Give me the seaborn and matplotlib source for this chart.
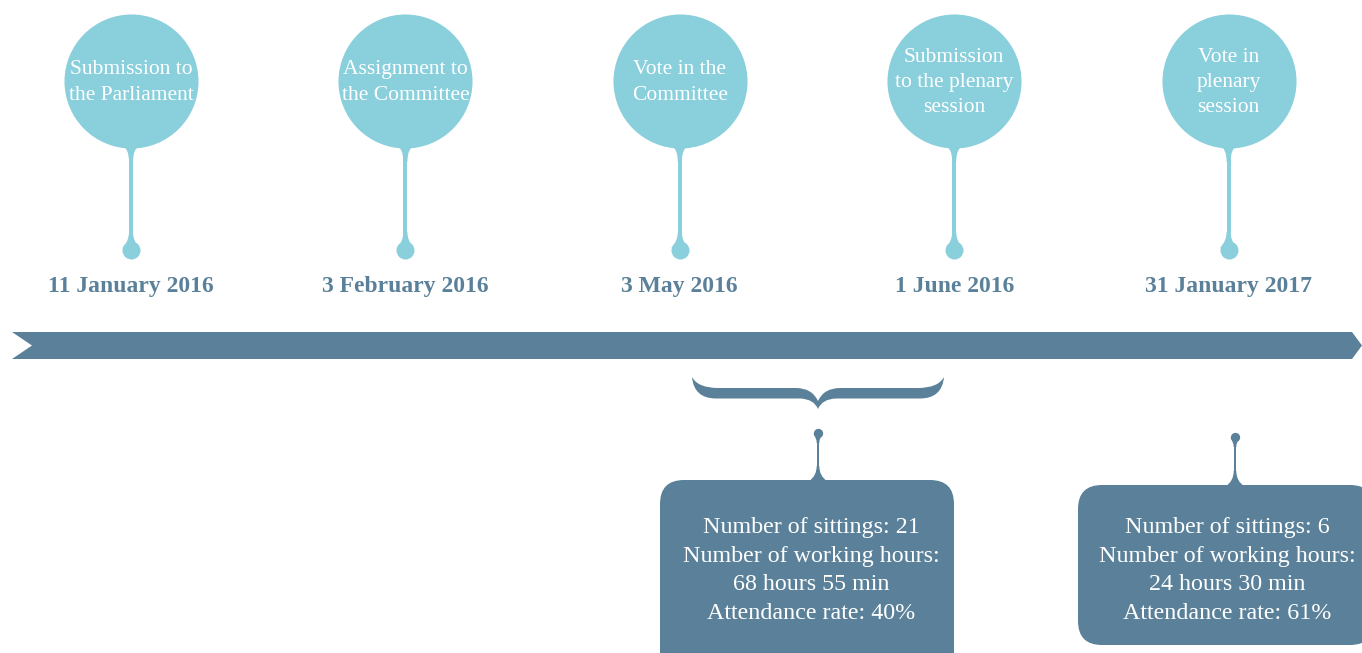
import numpy as np
import pandas as pd
import matplotlib
matplotlib.use("Agg")
import matplotlib.pyplot as plt
import seaborn as sns
from matplotlib.path import Path
from matplotlib.patches import PathPatch, FancyBboxPatch, Polygon

# Timeline data
event_labels = [
    "Submission to\nthe Parliament",
    "Assignment to\nthe Committee",
    "Vote in the\nCommittee",
    "Submission\nto the plenary\nsession",
    "Vote in\nplenary\nsession",
]
event_dates = [
    "11 January 2016",
    "3 February 2016",
    "3 May 2016",
    "1 June 2016",
    "31 January 2017",
]

# Stats boxes (committee phase, plenary phase)
box_stats = [
    ["Number of sittings: 21", "Number of working hours:", "68 hours 55 min", "Attendance rate: 40%"],
    ["Number of sittings: 6", "Number of working hours:", "24 hours 30 min", "Attendance rate: 61%"],
]

LIGHT = "#8acfdc"
DARK = "#5a8199"
SERIF = "Liberation Serif"

sns.set_theme(style="white")
plt.rcParams['font.family'] = [SERIF, 'DejaVu Serif']

W, H = 1362, 653
fig = plt.figure(figsize=(W / 100, H / 100), dpi=100)
ax = fig.add_axes([0, 0, 1, 1])

# event positions (evenly spaced along the timeline)
xs = 131 + 274.4 * np.arange(len(event_labels))
df = pd.DataFrame({"x": xs, "circle_y": 81.0, "drop_y": 250.0, "label": event_labels, "date": event_dates})

# stems with flares
for x in df["x"]:
    ax.add_patch(Polygon([(x - 2, 140), (x + 2, 140), (x + 2, 250), (x - 2, 250)],
                         closed=True, fc=LIGHT, ec="none", zorder=1))
    top = Path([(x - 9, 146), (x - 2, 148), (x - 2, 162), (x + 2, 162), (x + 2, 148), (x + 9, 146), (x - 9, 146)],
               [Path.MOVETO, Path.CURVE3, Path.CURVE3, Path.LINETO, Path.CURVE3, Path.CURVE3, Path.CLOSEPOLY])
    ax.add_patch(PathPatch(top, fc=LIGHT, ec="none", zorder=1))
    bot = Path([(x - 2, 232), (x - 2, 241), (x - 8.5, 248), (x + 8.5, 248), (x + 2, 241), (x + 2, 232), (x - 2, 232)],
               [Path.MOVETO, Path.CURVE3, Path.CURVE3, Path.LINETO, Path.CURVE3, Path.CURVE3, Path.CLOSEPOLY])
    ax.add_patch(PathPatch(bot, fc=LIGHT, ec="none", zorder=1))

# big circles and drops
sns.scatterplot(data=df, x="x", y="circle_y", s=9312, color=LIGHT, linewidth=0, ax=ax, zorder=2, legend=False)
sns.scatterplot(data=df, x="x", y="drop_y", s=168, color=LIGHT, linewidth=0, ax=ax, zorder=2, legend=False)
ax.set_xlim(0, W)
ax.set_ylim(H, 0)
ax.axis("off")

# circle labels
for x, lab in zip(df["x"], df["label"]):
    lines = lab.split("\n")
    n = len(lines)
    for k, line in enumerate(lines):
        yb = 87 + (k - (n - 1) / 2) * 25.5
        ax.text(x, yb, line, ha="center", va="baseline", color="white", fontsize=15.5, zorder=3)

# dates
for x, d in zip(df["x"], df["date"]):
    ax.text(x, 292, d, ha="center", va="baseline", color=DARK, fontsize=17, fontweight="bold")

# timeline bar
ax.add_patch(Polygon([(12, 332), (1352, 332), (1362, 345.5), (1352, 359), (12, 359), (32, 345.5)],
                     closed=True, fc=DARK, ec="none"))

# curly brace over committee period
cx = 818
L = [(692, 377), (698, 388), (718, 388), (796, 388), (812, 388), (cx, 401)]
R = [(2 * cx - px, py) for (px, py) in L[::-1]]
verts = L + R[1:]
codes = [Path.MOVETO, Path.CURVE3, Path.CURVE3, Path.LINETO, Path.CURVE3, Path.CURVE3,
         Path.CURVE3, Path.CURVE3, Path.LINETO, Path.CURVE3, Path.CURVE3]
lowL = [(692, 377), (694, 398.5), (716, 398.5), (800, 398.5), (814, 399), (cx, 409)]
lowR = [(2 * cx - px, py) for (px, py) in lowL]
verts += lowR[1:] + lowL[::-1][1:] + [(692, 377)]
codes += [Path.CURVE3, Path.CURVE3, Path.LINETO, Path.CURVE3, Path.CURVE3,
          Path.CURVE3, Path.CURVE3, Path.LINETO, Path.CURVE3, Path.CURVE3, Path.CLOSEPOLY]
ax.add_patch(PathPatch(Path(verts, codes), fc=DARK, ec="none"))

# pins and boxes
pins = [(818, 433, 480), (1235, 437, 485)]
boxes = [(660, 480, 294, 200), (1078, 485, 296, 160)]
text_x = [811, 1227]
for (px, py, pb), (bx, by, bw, bh), tx, stats in zip(pins, boxes, text_x, box_stats):
    ax.add_patch(FancyBboxPatch((bx, by), bw, bh, boxstyle="round,pad=0,rounding_size=24",
                                fc=DARK, ec="none"))
    ax.add_patch(Polygon([(px - 1.3, py), (px + 1.3, py), (px + 1.3, pb), (px - 1.3, pb)],
                         closed=True, fc=DARK, ec="none"))
    fl = Path([(px - 1.3, pb - 14), (px - 1.3, pb - 4), (px - 9, pb + 1), (px + 9, pb + 1),
               (px + 1.3, pb - 4), (px + 1.3, pb - 14), (px - 1.3, pb - 14)],
              [Path.MOVETO, Path.CURVE3, Path.CURVE3, Path.LINETO, Path.CURVE3, Path.CURVE3, Path.CLOSEPOLY])
    ax.add_patch(PathPatch(fl, fc=DARK, ec="none"))
    tp = Path([(px - 4.5, py + 1), (px - 1.3, py + 5), (px - 1.3, py + 10), (px + 1.3, py + 10),
               (px + 1.3, py + 5), (px + 4.5, py + 1), (px - 4.5, py + 1)],
              [Path.MOVETO, Path.CURVE3, Path.CURVE3, Path.LINETO, Path.CURVE3, Path.CURVE3, Path.CLOSEPOLY])
    ax.add_patch(PathPatch(tp, fc=DARK, ec="none"))
    ax.scatter([px], [py], s=45, color=DARK, linewidths=0)
    for k, line in enumerate(stats):
        ax.text(tx, 533 + k * 28.6, line, ha="center", va="baseline", color="white", fontsize=17.3)

fig.savefig("out.png", dpi=100)
